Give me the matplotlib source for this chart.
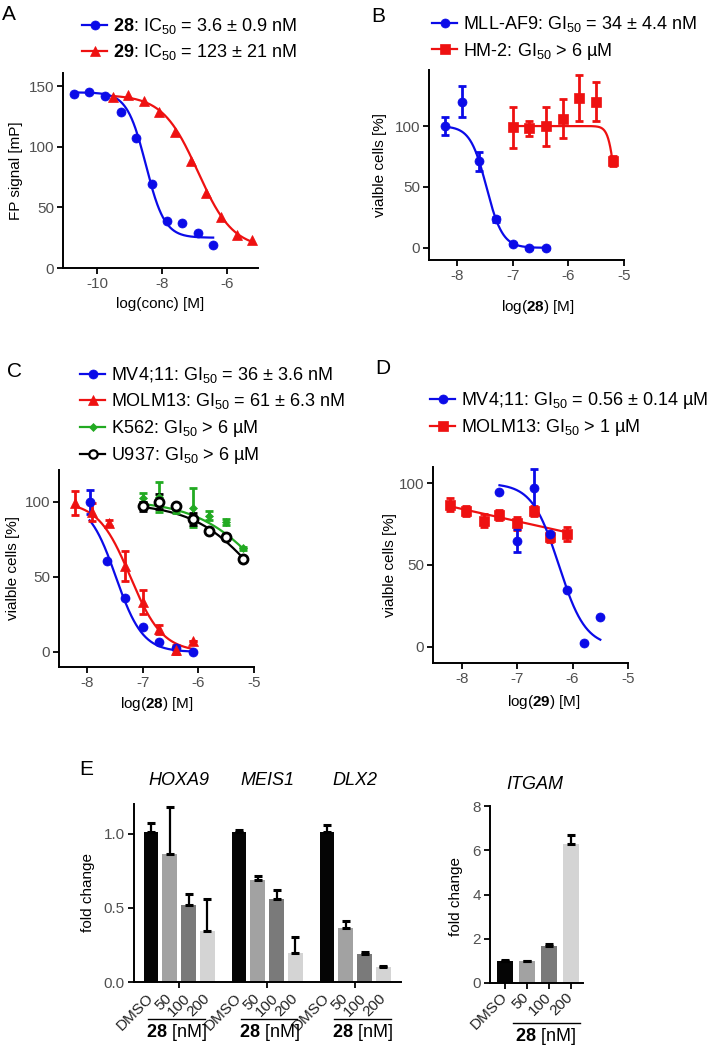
import numpy as np
import matplotlib
matplotlib.use('Agg')
import matplotlib.pyplot as plt
from matplotlib.lines import Line2D

plt.rcParams['font.family'] = ['Liberation Sans', 'DejaVu Sans']
plt.rcParams['mathtext.fontset'] = 'custom'
plt.rcParams['mathtext.rm'] = 'Liberation Sans'
plt.rcParams['mathtext.bf'] = 'Liberation Sans:bold'
plt.rcParams['mathtext.it'] = 'Liberation Sans:italic'
plt.rcParams['axes.unicode_minus'] = False

W, H = 719, 1049
BLUE = '#0b0be8'
RED = '#ee1111'
GREEN = '#22aa22'
BLACK = '#000000'
TICKC = '#505050'

# ---------------- Panel A data ----------------
a28_x = [-10.71, -10.25, -9.75, -9.26, -8.80, -8.31, -7.85, -7.38, -6.90, -6.43]
a28_y = [144, 145, 142, 129, 107, 69, 39, 37, 29, 19]
a29_x = [-9.51, -9.05, -8.55, -8.09, -7.60, -7.10, -6.65, -6.18, -5.69, -5.23]
a29_y = [141, 143, 138, 129, 112, 88, 62, 42, 27, 23]
a28_fit = (145, 25, -8.5, 1.5)     # top, bottom, logIC50, hill
a29_fit = (143, 16, -6.9, 0.8)

# ---------------- Panel B data ----------------
b_mll_x = [-8.21, -7.91, -7.61, -7.30, -7.00, -6.70, -6.40]
b_mll_y = [100, 120, 71, 23.5, 3, 0, 0]
b_mll_e = [7, 13, 8, 2, 1, 1, 1]
b_hm2_x = [-7.00, -6.70, -6.40, -6.10, -5.80, -5.50, -5.20]
b_hm2_y = [99, 98, 100, 106, 123, 120, 71]
b_hm2_e = [17, 6, 16, 16, 19, 16, 4]
b_mll_fit = (100, 0, -7.47, 3.0)
b_hm2_fit = (100, 0, -5.15, 7.0)

# ---------------- Panel C data ----------------
c_mv_x = [-7.95, -7.63, -7.32, -7.00, -6.70, -6.40, -6.10]
c_mv_y = [100, 60.6, 36, 16.7, 6.7, 2.7, 0]
c_mv_e = [8, 0, 0, 0, 0, 0, 0]
c_mo_x = [-8.21, -7.90, -7.61, -7.32, -7.00, -6.70, -6.40, -6.10]
c_mo_y = [99, 93, 86, 57, 33, 15, 1.5, 7]
c_mo_e = [8, 6, 2, 10, 8, 3, 3, 0]
c_k5_x = [-7.00, -6.70, -6.40, -6.10, -5.80, -5.50, -5.20]
c_k5_y = [102.5, 103, 94.6, 96, 90.6, 86.7, 69]
c_k5_e = [3, 10, 2, 13, 3, 2, 1]
c_u9_x = [-7.00, -6.70, -6.40, -6.10, -5.80, -5.50, -5.20]
c_u9_y = [97, 100, 97, 88.7, 80.7, 76.7, 62]
c_u9_e = [3, 5, 1, 4, 1, 2, 1]
c_mv_fit = (100, 0, -7.48, 1.8)
c_mo_fit = (100, 0, -7.22, 1.5)
c_k5_fit = (101, 0, -4.72, 0.69)
c_u9_fit = (99, 0, -4.88, 0.735)

# ---------------- Panel D data ----------------
d_mv_x = [-7.32, -7.00, -6.70, -6.40, -6.10, -5.80, -5.50]
d_mv_y = [95, 65, 97, 69, 35, 2.4, 18]
d_mv_e = [0, 7, 12, 0, 0, 0, 0]
d_mo_x = [-8.22, -7.92, -7.60, -7.32, -7.00, -6.70, -6.40, -6.10]
d_mo_y = [87, 83, 77, 80.5, 75.6, 83, 67, 69]
d_mo_e = [4, 3, 4, 3, 4, 3, 3, 4]
d_mv_fit = (100, 0, -6.25, 1.8)
d_mo_lin = (-7.55, 23.94)   # slope, intercept

# ---------------- Panel E data ----------------
e_doses = ['DMSO', '50', '100', '200']
e_genes = ['HOXA9', 'MEIS1', 'DLX2']
e_means = [[1.01, 0.865, 0.52, 0.345],
           [1.01, 0.69, 0.56, 0.195],
           [1.01, 0.365, 0.19, 0.10]]
e_errs = [[0.06, 0.315, 0.07, 0.215],
          [0.015, 0.025, 0.06, 0.11],
          [0.05, 0.045, 0.01, 0.01]]
itgam_means = [1.0, 0.98, 1.65, 6.3]
itgam_errs = [0.06, 0.03, 0.13, 0.37]
bar_colors = ['#050505', '#a2a2a2', '#7a7a7a', '#d4d4d4']


def four_pl(x, p):
    top, bottom, logc, hill = p
    return bottom + (top - bottom) / (1 + 10 ** ((x - logc) * hill))


fig = plt.figure(figsize=(W / 100, H / 100), dpi=100)


def px_axes(l, t, r, b):
    return fig.add_axes([l / W, 1 - b / H, (r - l) / W, (b - t) / H])


def style(ax, ls=11):
    for s in ['top', 'right']:
        ax.spines[s].set_visible(False)
    for s in ['left', 'bottom']:
        ax.spines[s].set_linewidth(1.4)
    ax.tick_params(direction='out', length=4.5, width=1.3, labelsize=ls,
                   labelcolor=TICKC, pad=2)


def series(ax, x, y, e, color, marker, ms, fit=None, mfc=None, lin=None):
    x = np.asarray(x, float)
    if e is not None:
        ax.errorbar(x, y, yerr=e, fmt='none', ecolor=color, elinewidth=2.0,
                    capsize=3.2, capthick=2.0, zorder=3)
    xx = np.linspace(x.min(), x.max(), 300)
    if fit is not None:
        ax.plot(xx, four_pl(xx, fit), color=color, lw=1.6, zorder=2)
    if lin is not None:
        ax.plot(xx, lin[0] * xx + lin[1], color=color, lw=1.6, zorder=2)
    ax.plot(x, y, ls='none', marker=marker, ms=ms, color=color,
            mfc=mfc if mfc else color, mec=color, mew=2.0 if mfc else 0.5,
            zorder=4)


def legend(handles, labels, x_px, ytop_px):
    fig.legend(handles, labels, loc='upper left',
               bbox_to_anchor=(x_px / W, 1 - ytop_px / H),
               bbox_transform=fig.transFigure, frameon=False, fontsize=13,
               handlelength=1.4, handletextpad=0.3, labelspacing=0.36,
               borderpad=0, borderaxespad=0)


def h(color, marker, ms=6.5, mfc=None):
    return Line2D([], [], color=color, marker=marker, ms=ms, lw=1.6,
                  mfc=mfc if mfc else color, mec=color, mew=1.6 if mfc else 0.5)


def panel_letter(x, y, s):
    fig.text(x / W, 1 - y / H, s, fontsize=15, va='top', ha='left')


# ---------------- Panel A ----------------
axA = px_axes(63, 73, 258, 268)
style(axA)
series(axA, a28_x, a28_y, None, BLUE, 'o', 6.5, fit=a28_fit)
series(axA, a29_x, a29_y, None, RED, '^', 6.5, fit=a29_fit)
axA.set_xlim(-11.05, -5.05)
axA.set_ylim(0, 161)
axA.set_xticks([-10, -8, -6])
axA.set_yticks([0, 50, 100, 150])
axA.set_xlabel('log(conc) [M]', fontsize=11)
axA.set_ylabel('FP signal [mP]', fontsize=11)
axA.xaxis.set_label_coords(0.5, -0.15)
axA.yaxis.set_label_coords(-0.205, 0.5)
legend([h(BLUE, 'o'), h(RED, '^')],
       [r'$\mathbf{28}$: IC$_{50}$ = 3.6 ± 0.9 nM',
        r'$\mathbf{29}$: IC$_{50}$ = 123 ± 21 nM'], 82, 16)
panel_letter(2, 5, 'A')

# ---------------- Panel B ----------------
axB = px_axes(429, 70, 624, 260)
style(axB)
series(axB, b_mll_x, b_mll_y, b_mll_e, BLUE, 'o', 6.5, fit=b_mll_fit)
series(axB, b_hm2_x, b_hm2_y, b_hm2_e, RED, 's', 6.5, fit=b_hm2_fit)
axB.set_xlim(-8.5, -5)
axB.set_ylim(-10, 146)
axB.set_xticks([-8, -7, -6, -5])
axB.set_yticks([0, 50, 100])
axB.set_xlabel(r'log($\mathbf{28}$) [M]', fontsize=11)
axB.set_ylabel('vialble cells [%]', fontsize=11)
axB.xaxis.set_label_coords(0.56, -0.2)
axB.yaxis.set_label_coords(-0.215, 0.5)
legend([h(BLUE, 'o'), h(RED, 's')],
       [r'MLL-AF9: GI$_{50}$ = 34 ± 4.4 nM',
        r'HM-2: GI$_{50}$ > 6 µM'], 432, 14)
panel_letter(371, 7, 'B')

# ---------------- Panel C ----------------
axC = px_axes(59, 470, 254, 667)
style(axC)
series(axC, c_k5_x, c_k5_y, c_k5_e, GREEN, 'D', 4.5, fit=c_k5_fit)
series(axC, c_u9_x, c_u9_y, c_u9_e, BLACK, 'o', 6.5, fit=c_u9_fit, mfc='white')
series(axC, c_mv_x, c_mv_y, c_mv_e, BLUE, 'o', 6.5, fit=c_mv_fit)
series(axC, c_mo_x, c_mo_y, c_mo_e, RED, '^', 6.5, fit=c_mo_fit)
axC.set_xlim(-8.5, -5)
axC.set_ylim(-10, 121)
axC.set_xticks([-8, -7, -6, -5])
axC.set_yticks([0, 50, 100])
axC.set_xlabel(r'log($\mathbf{28}$) [M]', fontsize=11)
axC.set_ylabel('vialble cells [%]', fontsize=11)
axC.xaxis.set_label_coords(0.5, -0.142)
axC.yaxis.set_label_coords(-0.2, 0.5)
legend([h(BLUE, 'o'), h(RED, '^'), h(GREEN, 'D', 4.5), h(BLACK, 'o', 6, mfc='white')],
       [r'MV4;11: GI$_{50}$ = 36 ± 3.6 nM',
        r'MOLM13: GI$_{50}$ = 61 ± 6.3 nM',
        r'K562: GI$_{50}$ > 6 µM',
        r'U937: GI$_{50}$ > 6 µM'], 80, 365)
panel_letter(7, 362, 'C')

# ---------------- Panel D ----------------
axD = px_axes(433, 467, 628, 663)
style(axD)
series(axD, d_mo_x, d_mo_y, d_mo_e, RED, 's', 6.5, lin=d_mo_lin)
series(axD, d_mv_x, d_mv_y, d_mv_e, BLUE, 'o', 6.5, fit=d_mv_fit)
axD.set_xlim(-8.52, -5)
axD.set_ylim(-10, 110)
axD.set_xticks([-8, -7, -6, -5])
axD.set_yticks([0, 50, 100])
axD.set_xlabel(r'log($\mathbf{29}$) [M]', fontsize=11)
axD.set_ylabel('vialble cells [%]', fontsize=11)
axD.xaxis.set_label_coords(0.57, -0.153)
axD.yaxis.set_label_coords(-0.185, 0.5)
legend([h(BLUE, 'o'), h(RED, 's')],
       [r'MV4;11: GI$_{50}$ = 0.56 ± 0.14 µM',
        r'MOLM13: GI$_{50}$ > 1 µM'], 430, 390)
panel_letter(375, 359, 'D')

# ---------------- Panel E (left) ----------------
axE = px_axes(134, 804, 401, 982)
style(axE)
gap = 4.68
bw = 0.77
all_pos, all_lab = [], []
line_spans = [(-0.16, 2.87), (0.13, 3.1), (0.37, 3.4)]
for g, gene in enumerate(e_genes):
    pos = [g * gap + i for i in range(len(e_doses))]
    axE.bar(pos, e_means[g], width=bw, color=bar_colors, edgecolor='none',
            zorder=2)
    axE.errorbar(pos, e_means[g], yerr=[np.zeros(4), e_errs[g]], fmt='none',
                 ecolor='black', elinewidth=1.6, capsize=3, capthick=2.2,
                 zorder=3)
    all_pos += pos
    all_lab += e_doses
    x0 = g * gap + line_spans[g][0]
    x1 = g * gap + line_spans[g][1]
    axE.plot([x0, x1], [-0.208, -0.208], color='black', lw=1.0,
             transform=axE.get_xaxis_transform(), clip_on=False)
    axE.text((x0 + x1) / 2, -0.285, r'$\mathbf{28}$ [nM]', fontsize=13,
             ha='center', va='center', transform=axE.get_xaxis_transform())
    axE.text(g * gap + 1.5, 1.13, gene, fontsize=13, style='italic',
             ha='center', va='center', transform=axE.get_xaxis_transform())
axE.set_xlim(-0.9, 13.3)
axE.set_ylim(0, 1.2)
axE.set_yticks([0.0, 0.5, 1.0])
axE.set_yticklabels(['0.0', '0.5', '1.0'])
axE.set_xticks(all_pos)
axE.set_xticklabels(all_lab, rotation=45, ha='right', va='center',
                    rotation_mode='anchor', fontsize=11, color='#222222')
axE.tick_params(axis='x', which='major', length=0, pad=10)
axE.set_xticks([g * gap + 1.5 for g in range(3)], minor=True)
axE.tick_params(axis='x', which='minor', direction='out', length=4.5, width=1.3)
axE.set_ylabel('fold change', fontsize=11)
axE.yaxis.set_label_coords(-0.145, 0.5)
panel_letter(79, 760, 'E')

# ---------------- Panel E (ITGAM) ----------------
axI = px_axes(490, 806, 583, 983)
style(axI)
ipos = list(range(len(e_doses)))
axI.bar(ipos, itgam_means, width=0.73, color=bar_colors, edgecolor='none',
        zorder=2)
axI.errorbar(ipos, itgam_means, yerr=[np.zeros(4), itgam_errs], fmt='none',
             ecolor='black', elinewidth=1.6, capsize=3, capthick=2.2, zorder=3)
axI.set_xlim(-0.68, 3.55)
axI.set_ylim(0, 8)
axI.set_yticks([0, 2, 4, 6, 8])
axI.set_xticks(ipos)
axI.set_xticklabels(e_doses, rotation=45, ha='right', va='center',
                    rotation_mode='anchor', fontsize=11, color='#222222')
axI.tick_params(axis='x', pad=4)
axI.set_ylabel('fold change', fontsize=11)
axI.yaxis.set_label_coords(-0.29, 0.49)
axI.plot([0.36, 3.4], [-0.226, -0.226], color='black', lw=1.0,
         transform=axI.get_xaxis_transform(), clip_on=False)
axI.text(1.86, -0.305, r'$\mathbf{28}$ [nM]', fontsize=13, ha='center',
         va='center', transform=axI.get_xaxis_transform())
axI.text(1.36, 1.12, 'ITGAM', fontsize=13, style='italic', ha='center',
         va='center', transform=axI.get_xaxis_transform())

fig.savefig('out.png', dpi=100)
